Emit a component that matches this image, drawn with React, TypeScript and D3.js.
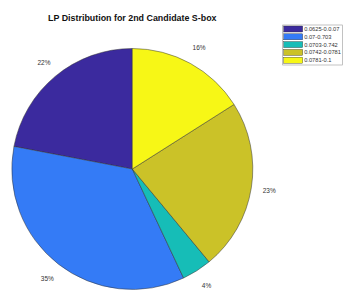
import { useRef, useEffect } from 'react';
import * as d3 from 'd3';

// LP distribution, counterclockwise from 12 o'clock
const ranges = ['0.0625-0.0.07', '0.07-0.703', '0.0703-0.742', '0.0742-0.0781', '0.0781-0.1'];
const shares = [22, 35, 4, 23, 16];
const colors = ['#3B2A9E', '#347BF6', '#16BDB7', '#CBC228', '#F7F716'];
const title = 'LP Distribution for 2nd Candidate S-box';

export default function App() {
  const svgRef = useRef<SVGSVGElement | null>(null);

  useEffect(() => {
    if (!svgRef.current) return;
    const svg = d3.select(svgRef.current);
    svg.selectAll('*').remove();

    const width = 357;
    const height = 306;
    const cx = 132.3;
    const cy = 169;
    const radius = 120.5;

    svg.append('rect').attr('width', width).attr('height', height).attr('fill', '#fff');

    // title
    svg.append('text')
      .attr('x', cx)
      .attr('y', 21)
      .attr('text-anchor', 'middle')
      .attr('font-family', 'Liberation Sans, Arial, sans-serif')
      .attr('font-weight', 'bold')
      .attr('font-size', 8.9)
      .attr('fill', '#111')
      .text(title);

    const pie = d3.pie<number>().sort(null).startAngle(0).endAngle(-2 * Math.PI).value(d => d);
    const arcs = pie(shares);
    const arc = d3.arc<d3.PieArcDatum<number>>().innerRadius(0).outerRadius(radius);

    const g = svg.append('g').attr('transform', `translate(${cx},${cy})`);

    g.selectAll('path')
      .data(arcs)
      .enter()
      .append('path')
      .attr('d', arc)
      .attr('fill', (_, i) => colors[i])
      .attr('stroke', '#333')
      .attr('stroke-width', 0.5);

    // percent labels outside the pie
    const labelR = radius * 1.15;
    g.selectAll('text.pct')
      .data(arcs)
      .enter()
      .append('text')
      .attr('class', 'pct')
      .attr('x', d => Math.sin((d.startAngle + d.endAngle) / 2) * labelR)
      .attr('y', d => -Math.cos((d.startAngle + d.endAngle) / 2) * labelR)
      .attr('dy', '0.35em')
      .attr('text-anchor', 'middle')
      .attr('font-family', 'Liberation Sans, Arial, sans-serif')
      .attr('font-size', 6.5)
      .attr('fill', '#333')
      .text(d => `${d.data}%`);

    // legend
    const legend = svg.append('g').attr('transform', 'translate(282.7,25)');
    legend.append('rect')
      .attr('width', 59.6)
      .attr('height', 40)
      .attr('fill', '#fff')
      .attr('stroke', '#999')
      .attr('stroke-width', 0.6);

    ranges.forEach((label, i) => {
      const row = legend.append('g').attr('transform', `translate(1,${4 + i * 7.8})`);
      row.append('rect')
        .attr('y', -3)
        .attr('width', 19)
        .attr('height', 6)
        .attr('fill', colors[i])
        .attr('stroke', '#333')
        .attr('stroke-width', 0.4);
      row.append('text')
        .attr('x', 20.5)
        .attr('y', 0)
        .attr('dy', '0.35em')
        .attr('font-family', 'Liberation Sans, Arial, sans-serif')
        .attr('font-size', 5.7)
        .attr('fill', '#333')
        .text(label);
    });
  }, []);

  return (
    <div style={{ position: 'absolute', left: 0, top: 0 }}>
      <svg ref={svgRef} width={357} height={306} style={{ display: 'block' }} />
    </div>
  );
}
